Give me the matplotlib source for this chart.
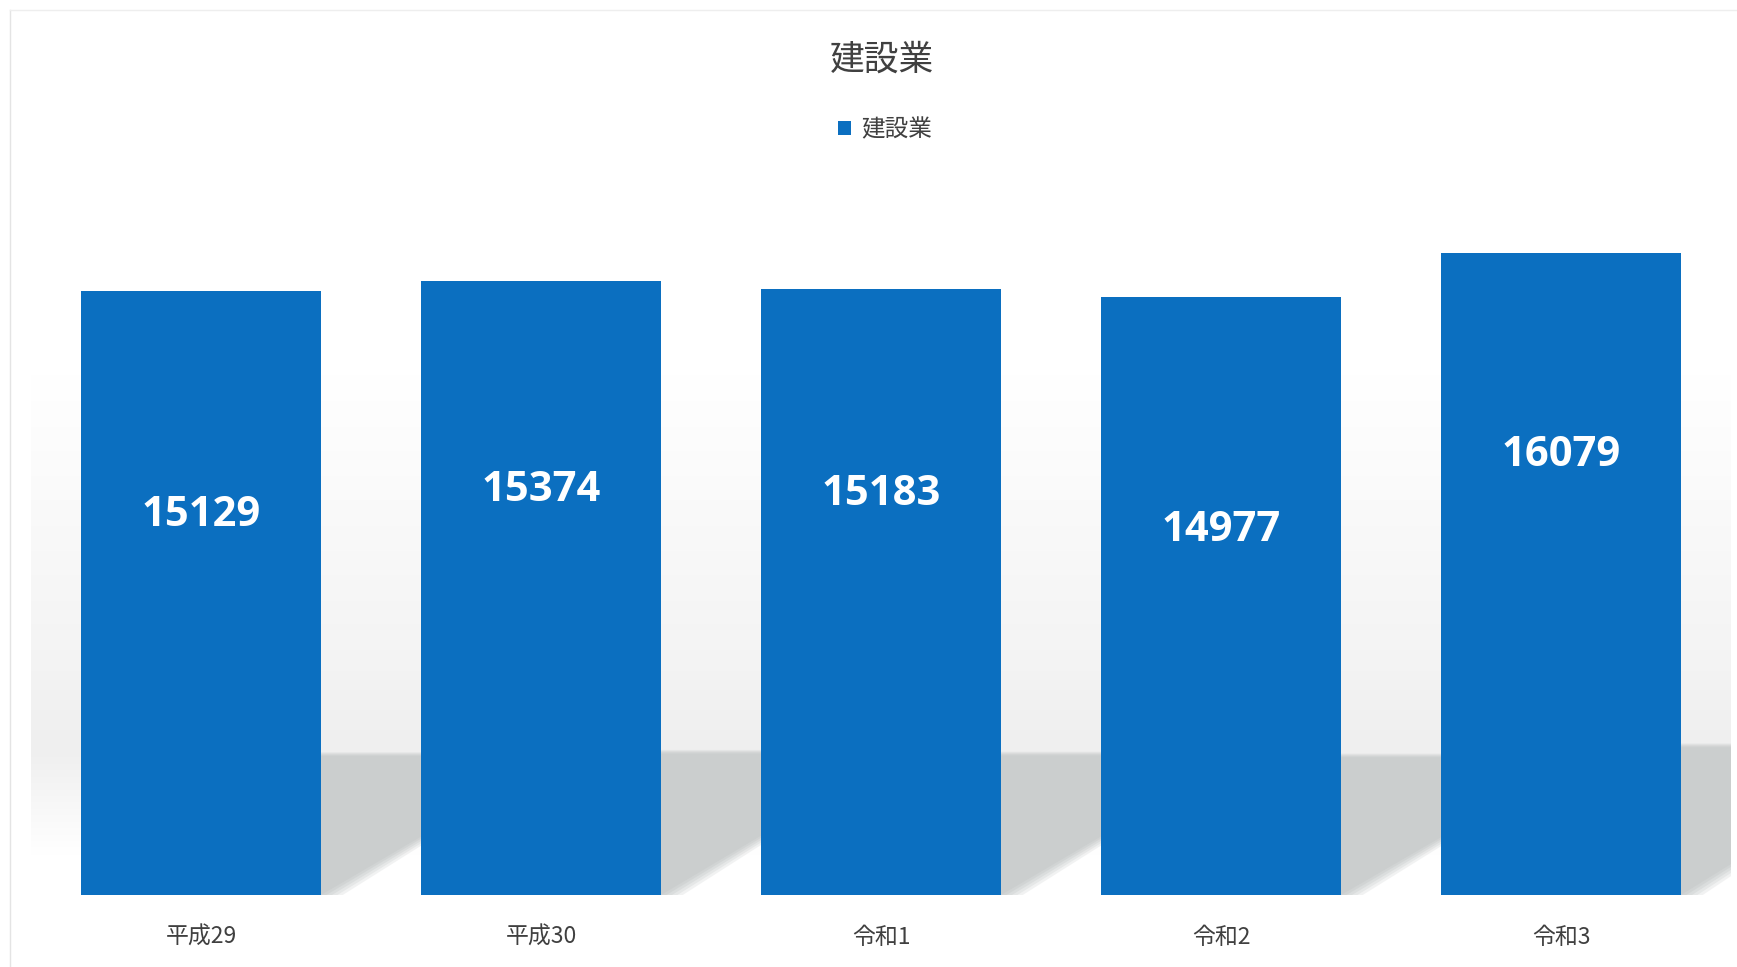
import numpy as np
import matplotlib.pyplot as plt
from matplotlib.patches import Polygon
from matplotlib.lines import Line2D
from matplotlib.colors import LinearSegmentedColormap

plt.rcParams["font.family"] = ["Noto Sans CJK JP", "DejaVu Sans"]

TITLE = "建設業"
years = ["平成29", "平成30", "令和1", "令和2", "令和3"]
workers = [15129, 15374, 15183, 14977, 16079]
# vertical placement of each value label, as a share of the bar height
label_frac = [0.628, 0.658, 0.660, 0.610, 0.684]

BAR_COLOR = "#0B6FC0"
TEXT_COLOR = "#404040"
SHADOW_COLOR = "#cbcece"
BAR_WIDTH = 0.706
SHADOW_SCALE = 0.23   # shadow height relative to bar
SHADOW_SHIFT = 0.70   # horizontal skew of the shadow (x units)

fig = plt.figure(figsize=(17.37, 9.67), dpi=100)
ax = fig.add_axes([31 / 1737, 72 / 967, 1700 / 1737, 719 / 967])
ax.set_xlim(-0.5, 4.5)
ax.set_ylim(0, 18000)

x = np.arange(len(years))

# soft grey haze behind the bars: peaks just above the floor shadows
haze = LinearSegmentedColormap.from_list("haze", ["#ffffff", "#efefef"])
rows = np.linspace(1000, 13000, 300)
profile = np.interp(rows, [1000, 3600, 6000, 13000], [0.0, 1.0, 0.7, 0.0])
ax.imshow(profile.reshape(-1, 1), cmap=haze, vmin=0, vmax=1, aspect="auto",
          origin="lower", extent=(-0.5, 4.5, 1000, 13000), zorder=0,
          interpolation="bicubic")

# skewed floor shadows, layered for a soft edge
for xi, v in zip(x, workers):
    left = xi - BAR_WIDTH / 2
    right = xi + BAR_WIDTH / 2
    h = SHADOW_SCALE * v
    for k, a in enumerate([0.25, 0.3, 0.4, 0.55, 1.0]):
        grow = (4 - k) * 0.008
        pts = [(left, 0), (right + grow * 2, 0),
               (right + SHADOW_SHIFT + grow, h + grow * 3000),
               (left + SHADOW_SHIFT, h + grow * 3000)]
        ax.add_patch(Polygon(pts, closed=True, facecolor=SHADOW_COLOR,
                             edgecolor="none", alpha=a, zorder=1))

bars = ax.bar(x, workers, width=BAR_WIDTH, color=BAR_COLOR, zorder=3,
              label=TITLE)

for xi, v, f in zip(x, workers, label_frac):
    ax.text(xi, v * f, f"{v}", ha="center", va="center", color="white",
            fontsize=30, fontweight="bold", family=["Open Sans", "DejaVu Sans"],
            zorder=4)

ax.set_xticks(x)
ax.set_xticklabels(years, fontsize=16.5, color=TEXT_COLOR)
ax.tick_params(axis="x", length=0, pad=22)
ax.set_yticks([])
for s in ax.spines.values():
    s.set_visible(False)
ax.set_facecolor("white")

fig.text(882 / 1737, 1 - 60 / 967, TITLE, ha="center", va="center",
         fontsize=25, color=TEXT_COLOR)
fig.legend(handles=[bars], labels=[TITLE], loc="center",
           bbox_to_anchor=(885 / 1737, 1 - 130 / 967), frameon=False,
           fontsize=17, handlelength=0.55, handleheight=0.55,
           handletextpad=0.4, labelcolor=TEXT_COLOR)

# faint chart border
fig.add_artist(Line2D([10 / 1737, 10 / 1737], [0, 1 - 10 / 967],
                      transform=fig.transFigure, color="#e4e4e4", lw=1))
fig.add_artist(Line2D([10 / 1737, 1], [1 - 10 / 967, 1 - 10 / 967],
                      transform=fig.transFigure, color="#eeeeee", lw=1))

fig.savefig("out.png", dpi=100)
